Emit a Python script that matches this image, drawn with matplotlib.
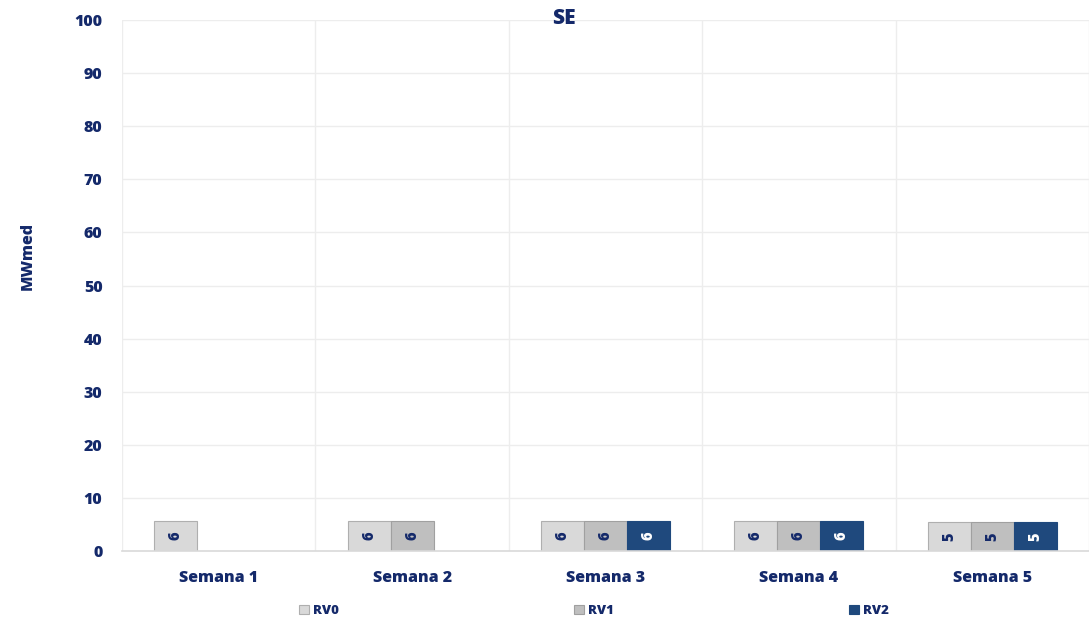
import matplotlib
matplotlib.use("Agg")
import matplotlib.pyplot as plt
import numpy as np

categories = ["Semana 1", "Semana 2", "Semana 3", "Semana 4", "Semana 5"]
series_names = ["RV0", "RV1", "RV2"]
rv0 = [5.6, 5.6, 5.6, 5.6, 5.4]
rv1 = [np.nan, 5.6, 5.6, 5.6, 5.4]
rv2 = [np.nan, np.nan, 5.6, 5.6, 5.4]
y_ticks = [0, 10, 20, 30, 40, 50, 60, 70, 80, 90, 100]

navy = "#14296A"
fills = ["#D9D9D9", "#BFBFBF", "#1F497D"]
edges = ["#AFAFAF", "#A0A0A0", "#1F497D"]
label_colors = [navy, navy, "white"]
W = 800  # extra-bold text

plt.rcParams["font.family"] = ["Open Sans", "DejaVu Sans"]
plt.rcParams["font.weight"] = W

fig = plt.figure(figsize=(10.89, 6.21), dpi=100)
ax = fig.add_axes([122 / 1089, 1 - 551 / 621, (1089 - 122) / 1089, (551 - 20) / 621])

x = np.arange(len(categories))
width = 0.222
for i, (vals, name) in enumerate(zip([rv0, rv1, rv2], series_names)):
    pos = x + (i - 1) * width
    bars = ax.bar(pos, vals, width, color=fills[i], edgecolor=edges[i],
                  linewidth=0.8, label=name, zorder=3)
    for b, v in zip(bars, vals):
        if np.isnan(v):
            continue
        ax.text(b.get_x() + b.get_width() / 2, v / 2, f"{v:.0f}",
                rotation=90, ha="center", va="center", fontsize=10.5,
                fontweight=W, color=label_colors[i], zorder=4)

ax.set_xlim(-0.5, len(categories) - 0.5)
ax.set_ylim(0, 100)
ax.set_yticks(y_ticks)
ax.set_xticks(x)
ax.set_xticklabels(categories)
ax.tick_params(axis="both", length=0, labelsize=11.5, labelcolor=navy)
ax.tick_params(axis="x", pad=14)
ax.tick_params(axis="y", pad=14)
for lbl in ax.get_xticklabels() + ax.get_yticklabels():
    lbl.set_fontweight(W)

# light horizontal grid plus vertical separators between weeks
for t in y_ticks[1:]:
    ax.axhline(t, color="#EDEDED", linewidth=1.0, zorder=0)
for b in np.arange(-0.5, len(categories) + 0.5, 1.0):
    ax.axvline(b, color="#EDEDED", linewidth=1.0, zorder=0)

for s in ["top", "right", "left"]:
    ax.spines[s].set_visible(False)
ax.spines["bottom"].set_color("#D9D9D9")
ax.spines["bottom"].set_linewidth(1.2)
ax.spines["bottom"].set_zorder(5)

fig.text(28 / 1089, 1 - 256 / 621, "MWmed", rotation=90, ha="center",
         va="center", fontsize=11.5, fontweight=W, color=navy)
fig.text(564 / 1089, 1 - 18 / 621, "SE", ha="center", va="center",
         fontsize=15, fontweight=W, color=navy)

handles, labels = ax.get_legend_handles_labels()
leg = fig.legend(handles, labels, loc="center", bbox_to_anchor=(594 / 1089, 1 - 611 / 621),
                 ncol=3, frameon=False, handlelength=0.75, handleheight=0.75,
                 handletextpad=0.3, columnspacing=17.85,
                 prop={"size": 9.5, "weight": W})
for t in leg.get_texts():
    t.set_color(navy)

fig.savefig("out.png", dpi=100)
